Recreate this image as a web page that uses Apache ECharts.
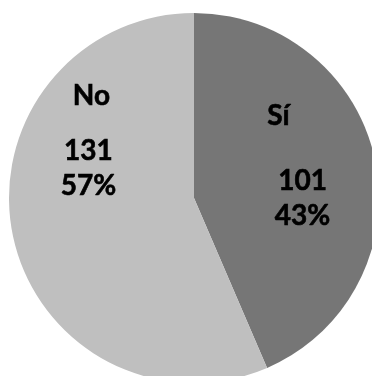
<!DOCTYPE html>
<html>
<head>
<meta charset="utf-8">
<script src="https://cdn.jsdelivr.net/npm/echarts@6/dist/echarts.min.js"></script>
<style>
  html, body { margin: 0; padding: 0; background: #ffffff; }
  #chart { width: 372px; height: 376px; }
</style>
</head>
<body>
<div id="chart"></div>
<script>
// Survey answers: counts and the percentage text shown under each count
const categories = ['Sí', 'No'];
const counts = [101, 131];
const percentLabels = ['43%', '57%'];

// Slice colours and label placement (offsets from the default inside position)
const sliceColors = ['#767676', '#bfbfbf'];
const valueOffsets = [[15, 20], [-12, -49]];
const nameOffsets = [[-9, -63], [-9, -121]];

const font = {
  fontFamily: 'Lato', fontWeight: 'bold', fontSize: 28, color: '#000000',
  textBorderColor: '#000000', textBorderWidth: 0.6
};

const center = [194, 198];
const radius = 185;

const sliceData = categories.map((name, i) => ({
  name: name,
  value: counts[i],
  itemStyle: { color: sliceColors[i] },
  label: {
    show: true,
    position: 'inside',
    offset: valueOffsets[i],
    formatter: () => counts[i] + '\n' + percentLabels[i],
    lineHeight: 35,
    align: 'center',
    ...font
  }
}));

const nameData = categories.map((name, i) => ({
  name: name,
  value: counts[i],
  itemStyle: { color: 'rgba(0,0,0,0)' },
  label: {
    show: true,
    position: 'inside',
    offset: nameOffsets[i],
    formatter: '{b}',
    ...font
  }
}));

const chart = echarts.init(document.getElementById('chart'), null, { renderer: 'canvas' });
chart.setOption({
  animation: false,
  backgroundColor: '#ffffff',
  series: [
    {
      type: 'pie',
      center: center,
      radius: radius,
      startAngle: 90,
      clockwise: true,
      silent: true,
      itemStyle: { borderWidth: 0 },
      labelLine: { show: false },
      data: sliceData
    },
    {
      type: 'pie',
      center: center,
      radius: radius,
      startAngle: 90,
      clockwise: true,
      silent: true,
      itemStyle: { borderWidth: 0 },
      labelLine: { show: false },
      data: nameData
    }
  ]
});
</script>
</body>
</html>
